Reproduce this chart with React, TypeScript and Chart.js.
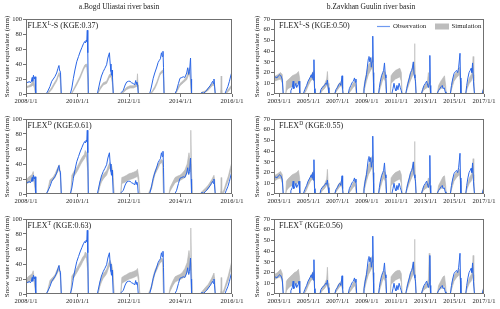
import React, { useEffect, useRef } from 'react';
import { Chart, registerables } from 'chart.js';
Chart.register(...registerables);

const FONT = '"Liberation Serif", "Times New Roman", serif';
const BLUE = '#2a66e6';
const GRAY = '#bdbdbd';
const GRAYLINE = '#b5b5b5';

type Pt = [number, number] | null;
type Bd = [number, number, number] | null;

// ---- tick labels / axes ----
const bogdTicks = [2008, 2010, 2012, 2014, 2016];
const zavTicks = [2003, 2005, 2007, 2009, 2011, 2013, 2015, 2017];
const yTitle = 'Snow water equivalent (mm)';
const titles = ['a.Bogd Uliastai river basin', 'b.Zavkhan Guulin river basin'];
const legendLabels = ['Observation', 'Simulation'];
const bogdLabels: [string, string, string][] = [
  ['FLEX', 'L', '-S (KGE:0.37)'],
  ['FLEX', 'D', ' (KGE:0.61)'],
  ['FLEX', 'T', ' (KGE:0.63)'],
];
const zavLabels: [string, string, string][] = [
  ['FLEX', 'L', '-S (KGE:0.50)'],
  ['FLEX', 'D', ' (KGE:0.55)'],
  ['FLEX', 'T', ' (KGE:0.56)'],
];

// ---- Bogd Uliastai observation [year, mm] ----
const bogdObs: Pt[] = [
  [2008.0, 14], [2008.04, 16], [2008.08, 15], [2008.12, 17], [2008.16, 15], [2008.2, 16], [2008.24, 22], [2008.26, 17], [2008.29, 25], [2008.32, 20], [2008.35, 23], [2008.38, 0], null,
  [2008.78, 0], [2008.85, 4], [2008.93, 10], [2009.0, 17], [2009.06, 20], [2009.12, 23], [2009.19, 28], [2009.24, 34], [2009.28, 38], [2009.3, 32], [2009.34, 29], [2009.37, 0], null,
  [2009.72, 0], [2009.78, 8], [2009.84, 21], [2009.9, 32], [2009.97, 43], [2010.04, 50], [2010.1, 56], [2010.17, 62], [2010.23, 67], [2010.28, 70], [2010.31, 68], [2010.34, 72], [2010.36, 70], [2010.38, 85], [2010.4, 55], [2010.42, 0], null,
  [2010.77, 0], [2010.82, 8], [2010.87, 16], [2010.93, 24], [2011.0, 30], [2011.06, 34], [2011.13, 39], [2011.18, 48], [2011.24, 55], [2011.27, 40], [2011.3, 30], [2011.32, 25], [2011.34, 32], [2011.36, 22], [2011.39, 0], null,
  [2011.65, 0], [2011.7, 2], [2011.78, 5], [2011.85, 12], [2011.91, 16], [2011.98, 17], [2012.04, 17], [2012.1, 15], [2012.17, 14], [2012.22, 12], [2012.26, 18], [2012.28, 13], [2012.3, 16], [2012.33, 14], [2012.36, 0], null,
  [2012.8, 0], [2012.86, 8], [2012.94, 21], [2013.0, 28], [2013.08, 36], [2013.13, 42], [2013.18, 45], [2013.22, 47], [2013.26, 55], [2013.29, 50], [2013.32, 57], [2013.34, 35], [2013.36, 0], null,
  [2013.78, 0], [2013.85, 5], [2013.92, 14], [2013.98, 21], [2014.05, 22], [2014.11, 23], [2014.17, 22], [2014.24, 28], [2014.28, 35], [2014.32, 26], [2014.35, 30], [2014.39, 48], [2014.41, 20], [2014.43, 0], null,
  [2014.76, 0], [2014.82, 2], [2014.9, 1], [2014.96, 3], [2015.02, 5], [2015.08, 8], [2015.15, 11], [2015.2, 14], [2015.25, 17], [2015.28, 14], [2015.3, 20], [2015.35, 0], null,
  [2015.72, 0], [2015.78, 5], [2015.84, 10], [2015.9, 17], [2015.95, 24], [2016.0, 30],
];

// ---- Bogd simulation bands [year, low, high] ----
const bogdSimLS: Bd[] = [
  [2008.0, 8, 10], [2008.1, 9, 11], [2008.2, 10, 13], [2008.28, 12, 20], [2008.33, 8, 12], [2008.37, 0, 0], null,
  [2008.8, 0, 0], [2008.9, 2, 4], [2009.0, 6, 9], [2009.1, 12, 15], [2009.19, 17, 20], [2009.25, 23, 26], [2009.29, 25, 29], [2009.33, 20, 24], [2009.36, 0, 0], null,
  [2009.76, 0, 0], [2009.84, 4, 6], [2009.97, 12, 15], [2010.1, 21, 24], [2010.23, 32, 35], [2010.29, 36, 39], [2010.36, 37, 40], [2010.4, 20, 25], [2010.42, 0, 0], null,
  [2010.78, 0, 0], [2010.88, 6, 9], [2011.0, 12, 15], [2011.13, 14, 17], [2011.24, 22, 26], [2011.31, 23, 27], [2011.35, 15, 20], [2011.39, 0, 0], null,
  [2011.7, 0, 0], [2011.78, 2, 4], [2011.91, 6, 9], [2012.04, 8, 11], [2012.17, 8, 11], [2012.3, 10, 13], [2012.33, 15, 27], [2012.35, 8, 12], [2012.37, 0, 0], null,
  [2012.82, 0, 0], [2012.9, 2, 4], [2013.0, 7, 10], [2013.08, 13, 16], [2013.2, 25, 28], [2013.27, 28, 31], [2013.32, 29, 32], [2013.35, 15, 20], [2013.37, 0, 0], null,
  [2013.8, 0, 0], [2013.86, 3, 6], [2013.98, 11, 14], [2014.11, 15, 18], [2014.24, 19, 23], [2014.3, 24, 30], [2014.34, 28, 35], [2014.38, 20, 25], [2014.42, 0, 0], null,
  [2014.76, 0, 0], [2014.85, 1, 3], [2014.95, 2, 4], [2015.05, 4, 7], [2015.15, 8, 11], [2015.27, 12, 15], [2015.32, 10, 14], [2015.35, 0, 0], null,
  [2015.56, 0, 0], [2015.58, 5, 24], [2015.6, 0, 0], null,
  [2015.74, 0, 0], [2015.82, 2, 5], [2015.9, 5, 8], [2015.96, 8, 11], [2016.0, 10, 13],
];
const bogdSimD: Bd[] = [
  [2008.0, 12, 18], [2008.08, 15, 22], [2008.16, 16, 24], [2008.24, 18, 26], [2008.28, 22, 30], [2008.32, 14, 20], [2008.38, 0, 0], null,
  [2008.8, 0, 0], [2008.86, 4, 8], [2008.93, 14, 19], [2009.0, 17, 21], [2009.06, 19, 23], [2009.13, 22, 27], [2009.19, 27, 32], [2009.25, 31, 36], [2009.29, 34, 39], [2009.33, 25, 30], [2009.37, 0, 0], null,
  [2009.74, 0, 0], [2009.78, 18, 25], [2009.86, 24, 30], [2009.93, 27, 33], [2010.0, 31, 37], [2010.06, 35, 41], [2010.13, 40, 46], [2010.2, 44, 50], [2010.27, 47, 53], [2010.3, 51, 58], [2010.35, 48, 55], [2010.4, 30, 40], [2010.42, 0, 0], null,
  [2010.8, 0, 0], [2010.87, 10, 16], [2010.93, 16, 22], [2011.0, 20, 26], [2011.07, 23, 29], [2011.13, 25, 31], [2011.2, 32, 38], [2011.26, 35, 42], [2011.33, 30, 37], [2011.38, 20, 28], [2011.42, 0, 0], null,
  [2011.68, 0, 0], [2011.72, 14, 22], [2011.8, 15, 23], [2011.91, 17, 25], [2012.0, 19, 27], [2012.1, 20, 28], [2012.18, 21, 29], [2012.24, 22, 30], [2012.3, 23, 31], [2012.33, 24, 33], [2012.38, 15, 22], [2012.42, 0, 0], null,
  [2012.75, 0, 0], [2012.82, 3, 6], [2012.88, 7, 11], [2012.95, 18, 24], [2013.01, 26, 31], [2013.08, 31, 36], [2013.14, 35, 40], [2013.2, 40, 44], [2013.27, 42, 46], [2013.31, 38, 44], [2013.34, 0, 0], null,
  [2013.55, 0, 0], [2013.6, 4, 9], [2013.7, 10, 16], [2013.79, 15, 22], [2013.9, 17, 24], [2013.98, 18, 25], [2014.08, 20, 28], [2014.17, 22, 32], [2014.26, 28, 40], [2014.33, 35, 55], [2014.37, 30, 45], [2014.4, 40, 85], [2014.43, 20, 30], [2014.46, 0, 0], null,
  [2014.76, 0, 0], [2014.85, 1, 4], [2014.95, 3, 7], [2015.08, 7, 12], [2015.21, 14, 19], [2015.3, 20, 25], [2015.33, 12, 18], [2015.35, 0, 0], null,
  [2015.56, 0, 0], [2015.58, 4, 22], [2015.6, 0, 0], null,
  [2015.62, 0, 0], [2015.7, 3, 7], [2015.78, 11, 16], [2015.86, 18, 24], [2015.93, 28, 34], [2016.0, 37, 43],
];
const bogdSimT: Bd[] = [
  [2008.0, 13, 19], [2008.08, 16, 23], [2008.16, 17, 25], [2008.24, 19, 27], [2008.28, 23, 31], [2008.32, 15, 21], [2008.38, 0, 0], null,
  [2008.8, 0, 0], [2008.86, 4, 8], [2008.93, 13, 18], [2009.0, 16, 21], [2009.06, 18, 23], [2009.13, 22, 26], [2009.19, 26, 31], [2009.25, 30, 35], [2009.29, 33, 38], [2009.33, 24, 29], [2009.37, 0, 0], null,
  [2009.74, 0, 0], [2009.78, 18, 24], [2009.86, 22, 28], [2009.93, 26, 32], [2010.0, 30, 36], [2010.06, 34, 40], [2010.13, 38, 44], [2010.2, 43, 49], [2010.27, 47, 52], [2010.3, 50, 56], [2010.35, 47, 54], [2010.4, 30, 40], [2010.42, 0, 0], null,
  [2010.8, 0, 0], [2010.87, 10, 16], [2010.93, 16, 22], [2011.0, 21, 27], [2011.07, 24, 30], [2011.13, 27, 33], [2011.2, 34, 40], [2011.26, 38, 45], [2011.33, 32, 39], [2011.38, 22, 30], [2011.42, 0, 0], null,
  [2011.68, 0, 0], [2011.72, 14, 22], [2011.8, 16, 24], [2011.91, 18, 26], [2012.0, 20, 28], [2012.1, 21, 29], [2012.18, 22, 30], [2012.24, 23, 31], [2012.3, 24, 32], [2012.33, 25, 34], [2012.38, 15, 22], [2012.42, 0, 0], null,
  [2012.75, 0, 0], [2012.82, 3, 6], [2012.88, 8, 12], [2012.95, 19, 25], [2013.01, 27, 32], [2013.08, 32, 37], [2013.14, 37, 41], [2013.2, 41, 45], [2013.27, 44, 48], [2013.31, 40, 46], [2013.34, 0, 0], null,
  [2013.55, 0, 0], [2013.6, 4, 9], [2013.7, 11, 17], [2013.79, 16, 23], [2013.9, 18, 25], [2013.98, 19, 26], [2014.08, 21, 29], [2014.17, 23, 34], [2014.26, 29, 42], [2014.33, 36, 58], [2014.37, 32, 47], [2014.4, 42, 88], [2014.43, 20, 30], [2014.46, 0, 0], null,
  [2014.76, 0, 0], [2014.85, 1, 4], [2014.95, 3, 8], [2015.08, 8, 13], [2015.21, 15, 21], [2015.3, 22, 28], [2015.33, 13, 19], [2015.35, 0, 0], null,
  [2015.56, 0, 0], [2015.58, 4, 22], [2015.6, 0, 0], null,
  [2015.62, 0, 0], [2015.7, 3, 7], [2015.78, 11, 16], [2015.86, 18, 25], [2015.93, 29, 35], [2016.0, 38, 45],
];

// ---- Zavkhan Guulin observation ----
const zavObs: Pt[] = [
  [2002.65, 14], [2002.75, 16], [2002.85, 15], [2002.95, 17], [2003.05, 18], [2003.12, 17], [2003.18, 15], [2003.22, 13], [2003.28, 0], null,
  [2003.75, 0], [2003.8, 3], [2003.9, 6], [2003.96, 12], [2004.0, 5], [2004.08, 7], [2004.15, 10], [2004.2, 6], [2004.3, 9], [2004.36, 12], [2004.4, 5], [2004.42, 0], null,
  [2004.65, 0], [2004.75, 4], [2004.88, 8], [2004.98, 12], [2005.1, 15], [2005.2, 18], [2005.25, 15], [2005.3, 20], [2005.33, 13], [2005.38, 32], [2005.42, 5], [2005.45, 0], null,
  [2005.79, 0], [2005.85, 4], [2005.93, 6], [2006.01, 7], [2006.1, 8], [2006.18, 10], [2006.24, 9], [2006.3, 13], [2006.35, 6], [2006.4, 0], null,
  [2006.8, 0], [2006.88, 4], [2006.98, 6], [2007.08, 9], [2007.15, 10], [2007.22, 8], [2007.3, 17], [2007.34, 5], [2007.37, 0], null,
  [2007.72, 0], [2007.8, 5], [2007.9, 8], [2008.0, 11], [2008.08, 12], [2008.15, 15], [2008.2, 11], [2008.25, 14], [2008.3, 0], null,
  [2008.74, 0], [2008.8, 5], [2008.88, 12], [2008.97, 18], [2009.05, 28], [2009.1, 33], [2009.14, 35], [2009.2, 30], [2009.26, 34], [2009.3, 25], [2009.35, 30], [2009.4, 54], [2009.44, 20], [2009.46, 0], null,
  [2009.8, 0], [2009.85, 6], [2009.92, 12], [2010.0, 17], [2010.08, 20], [2010.14, 22], [2010.2, 29], [2010.25, 18], [2010.3, 15], [2010.34, 0], null,
  [2010.7, 0], [2010.78, 5], [2010.85, 10], [2010.92, 5], [2010.98, 3], [2011.05, 8], [2011.12, 4], [2011.2, 10], [2011.28, 6], [2011.35, 3], [2011.4, 0], null,
  [2011.65, 0], [2011.72, 5], [2011.8, 10], [2011.9, 15], [2011.98, 20], [2012.06, 22], [2012.12, 25], [2012.17, 30], [2012.22, 18], [2012.28, 15], [2012.32, 12], [2012.36, 0], null,
  [2012.72, 0], [2012.8, 4], [2012.9, 8], [2013.0, 10], [2013.08, 12], [2013.15, 8], [2013.2, 6], [2013.26, 10], [2013.3, 36], [2013.33, 8], [2013.36, 0], null,
  [2013.8, 0], [2013.88, 3], [2013.98, 5], [2014.08, 7], [2014.15, 8], [2014.2, 5], [2014.28, 6], [2014.35, 2], [2014.4, 0], null,
  [2014.7, 0], [2014.78, 8], [2014.86, 14], [2014.95, 19], [2015.05, 21], [2015.12, 22], [2015.2, 20], [2015.27, 25], [2015.36, 38], [2015.39, 15], [2015.42, 0], null,
  [2015.75, 0], [2015.82, 8], [2015.9, 15], [2015.98, 20], [2016.06, 22], [2016.12, 24], [2016.17, 20], [2016.22, 29], [2016.28, 12], [2016.35, 0], null,
  [2016.88, 0], [2016.95, 4], [2017.0, 5],
];

// ---- Zavkhan simulation bands ----
const zavSimLS: Bd[] = [
  [2002.65, 12, 16], [2002.9, 13, 18], [2003.1, 14, 20], [2003.22, 10, 18], [2003.28, 0, 0], null,
  [2003.45, 0, 0], [2003.5, 3, 12], [2003.6, 5, 13], [2003.75, 6, 15], [2003.9, 7, 17], [2004.05, 8, 18], [2004.2, 10, 19], [2004.32, 10, 21], [2004.4, 6, 15], [2004.43, 0, 0], null,
  [2004.7, 0, 0], [2004.85, 3, 6], [2005.0, 8, 12], [2005.15, 12, 16], [2005.28, 14, 20], [2005.38, 12, 22], [2005.45, 0, 0], null,
  [2005.8, 0, 0], [2005.95, 3, 6], [2006.1, 5, 9], [2006.25, 8, 14], [2006.3, 8, 21], [2006.35, 5, 10], [2006.4, 0, 0], null,
  [2006.8, 0, 0], [2006.95, 3, 6], [2007.1, 6, 10], [2007.25, 8, 12], [2007.32, 5, 8], [2007.37, 0, 0], null,
  [2007.72, 0, 0], [2007.9, 3, 6], [2008.05, 6, 10], [2008.2, 8, 12], [2008.28, 0, 0], null,
  [2008.74, 0, 0], [2008.85, 5, 12], [2008.97, 12, 20], [2009.1, 18, 27], [2009.25, 22, 30], [2009.38, 25, 35], [2009.44, 10, 20], [2009.46, 0, 0], null,
  [2009.78, 0, 0], [2009.9, 5, 10], [2010.05, 12, 18], [2010.15, 15, 22], [2010.25, 12, 20], [2010.33, 0, 0], null,
  [2010.6, 0, 0], [2010.65, 10, 17], [2010.8, 12, 20], [2010.95, 14, 22], [2011.1, 15, 23], [2011.25, 16, 24], [2011.35, 12, 20], [2011.4, 0, 0], null,
  [2011.65, 0, 0], [2011.75, 4, 8], [2011.9, 10, 16], [2012.05, 15, 22], [2012.15, 18, 28], [2012.24, 20, 30], [2012.26, 25, 47], [2012.28, 18, 25], [2012.36, 0, 0], null,
  [2012.72, 0, 0], [2012.85, 3, 6], [2013.0, 5, 9], [2013.12, 6, 10], [2013.2, 8, 20], [2013.28, 6, 12], [2013.35, 0, 0], null,
  [2013.8, 0, 0], [2013.9, 3, 8], [2014.05, 5, 12], [2014.2, 6, 15], [2014.3, 8, 17], [2014.38, 4, 8], [2014.42, 0, 0], null,
  [2014.7, 0, 0], [2014.8, 5, 10], [2014.95, 12, 17], [2015.1, 15, 20], [2015.25, 17, 22], [2015.33, 18, 25], [2015.4, 8, 12], [2015.42, 0, 0], null,
  [2015.75, 0, 0], [2015.85, 5, 8], [2016.0, 10, 15], [2016.12, 12, 18], [2016.2, 15, 20], [2016.26, 18, 35], [2016.3, 8, 12], [2016.35, 0, 0], null,
  [2016.85, 0, 0], [2016.95, 2, 5], [2017.0, 3, 6],
];
const zavSimD: Bd[] = [
  [2002.65, 12, 17], [2002.9, 14, 19], [2003.1, 15, 21], [2003.22, 10, 18], [2003.28, 0, 0], null,
  [2003.45, 0, 0], [2003.5, 3, 12], [2003.6, 5, 14], [2003.75, 7, 16], [2003.9, 8, 18], [2004.05, 9, 19], [2004.2, 10, 20], [2004.32, 11, 22], [2004.4, 6, 15], [2004.43, 0, 0], null,
  [2004.7, 0, 0], [2004.85, 3, 6], [2005.0, 8, 12], [2005.15, 12, 16], [2005.28, 14, 20], [2005.38, 12, 22], [2005.45, 0, 0], null,
  [2005.8, 0, 0], [2005.95, 3, 6], [2006.1, 5, 9], [2006.25, 8, 14], [2006.3, 8, 23], [2006.35, 5, 10], [2006.4, 0, 0], null,
  [2006.8, 0, 0], [2006.95, 3, 6], [2007.1, 6, 10], [2007.25, 8, 12], [2007.32, 5, 9], [2007.37, 0, 0], null,
  [2007.72, 0, 0], [2007.9, 3, 6], [2008.05, 6, 10], [2008.2, 8, 13], [2008.28, 0, 0], null,
  [2008.74, 0, 0], [2008.85, 5, 12], [2008.97, 12, 20], [2009.1, 18, 27], [2009.25, 22, 31], [2009.38, 26, 36], [2009.44, 10, 20], [2009.46, 0, 0], null,
  [2009.78, 0, 0], [2009.9, 5, 10], [2010.05, 12, 18], [2010.15, 15, 22], [2010.25, 12, 20], [2010.33, 0, 0], null,
  [2010.6, 0, 0], [2010.65, 8, 15], [2010.8, 10, 18], [2010.95, 12, 20], [2011.1, 13, 21], [2011.25, 14, 22], [2011.35, 10, 18], [2011.4, 0, 0], null,
  [2011.65, 0, 0], [2011.75, 4, 8], [2011.9, 10, 16], [2012.05, 15, 22], [2012.15, 18, 28], [2012.24, 20, 30], [2012.26, 25, 49], [2012.28, 18, 25], [2012.36, 0, 0], null,
  [2012.72, 0, 0], [2012.85, 3, 6], [2013.0, 5, 9], [2013.12, 6, 10], [2013.2, 8, 15], [2013.28, 6, 12], [2013.35, 0, 0], null,
  [2013.8, 0, 0], [2013.9, 3, 8], [2014.05, 5, 12], [2014.2, 6, 16], [2014.3, 8, 17], [2014.38, 4, 8], [2014.42, 0, 0], null,
  [2014.7, 0, 0], [2014.8, 5, 10], [2014.95, 12, 17], [2015.1, 15, 20], [2015.25, 17, 22], [2015.33, 18, 23], [2015.4, 8, 12], [2015.42, 0, 0], null,
  [2015.75, 0, 0], [2015.85, 5, 8], [2016.0, 10, 15], [2016.12, 12, 18], [2016.2, 15, 20], [2016.26, 18, 33], [2016.3, 8, 12], [2016.35, 0, 0], null,
  [2016.85, 0, 0], [2016.95, 2, 5], [2017.0, 3, 6],
];
const zavSimT: Bd[] = [
  [2002.65, 13, 18], [2002.9, 15, 20], [2003.1, 16, 23], [2003.22, 11, 19], [2003.28, 0, 0], null,
  [2003.45, 0, 0], [2003.5, 3, 12], [2003.6, 5, 14], [2003.75, 7, 16], [2003.9, 8, 18], [2004.05, 9, 20], [2004.2, 10, 21], [2004.32, 11, 23], [2004.4, 6, 15], [2004.43, 0, 0], null,
  [2004.7, 0, 0], [2004.85, 3, 6], [2005.0, 8, 12], [2005.15, 12, 16], [2005.28, 14, 20], [2005.38, 12, 22], [2005.45, 0, 0], null,
  [2005.8, 0, 0], [2005.95, 3, 6], [2006.1, 5, 9], [2006.25, 8, 14], [2006.3, 8, 25], [2006.35, 5, 10], [2006.4, 0, 0], null,
  [2006.8, 0, 0], [2006.95, 3, 6], [2007.1, 6, 10], [2007.25, 8, 12], [2007.32, 5, 9], [2007.37, 0, 0], null,
  [2007.72, 0, 0], [2007.9, 3, 6], [2008.05, 6, 10], [2008.2, 8, 13], [2008.28, 0, 0], null,
  [2008.74, 0, 0], [2008.85, 5, 12], [2008.97, 12, 20], [2009.1, 18, 27], [2009.25, 22, 31], [2009.38, 26, 36], [2009.44, 10, 20], [2009.46, 0, 0], null,
  [2009.78, 0, 0], [2009.9, 5, 10], [2010.05, 12, 18], [2010.15, 15, 22], [2010.25, 12, 20], [2010.33, 0, 0], null,
  [2010.6, 0, 0], [2010.65, 9, 16], [2010.8, 11, 19], [2010.95, 13, 21], [2011.1, 14, 22], [2011.25, 15, 22], [2011.35, 11, 19], [2011.4, 0, 0], null,
  [2011.65, 0, 0], [2011.75, 4, 8], [2011.9, 10, 16], [2012.05, 15, 22], [2012.15, 18, 28], [2012.24, 20, 30], [2012.26, 25, 51], [2012.28, 18, 25], [2012.36, 0, 0], null,
  [2012.72, 0, 0], [2012.85, 3, 6], [2013.0, 5, 9], [2013.12, 6, 10], [2013.2, 8, 14], [2013.26, 10, 38], [2013.3, 6, 12], [2013.35, 0, 0], null,
  [2013.8, 0, 0], [2013.9, 3, 8], [2014.05, 5, 12], [2014.2, 6, 16], [2014.3, 8, 17], [2014.38, 4, 8], [2014.42, 0, 0], null,
  [2014.7, 0, 0], [2014.8, 5, 10], [2014.95, 12, 17], [2015.1, 15, 20], [2015.25, 17, 22], [2015.33, 18, 23], [2015.4, 8, 12], [2015.42, 0, 0], null,
  [2015.75, 0, 0], [2015.85, 5, 8], [2016.0, 10, 15], [2016.12, 12, 18], [2016.2, 15, 20], [2016.26, 18, 36], [2016.3, 8, 12], [2016.35, 0, 0], null,
  [2016.85, 0, 0], [2016.95, 2, 5], [2017.0, 3, 6],
];

function toLine(src: Pt[]) {
  const out: { x: number; y: number | null }[] = [];
  let lastX = 0;
  for (const p of src) {
    if (p) { out.push({ x: p[0], y: p[1] }); lastX = p[0]; }
    else out.push({ x: lastX, y: null });
  }
  return out;
}
function toBand(src: Bd[], k: 1 | 2) {
  const out: { x: number; y: number | null }[] = [];
  let lastX = 0;
  for (const p of src) {
    if (p) { out.push({ x: p[0], y: p[k] }); lastX = p[0]; }
    else out.push({ x: lastX, y: null });
  }
  return out;
}

const decorPlugin = {
  id: 'decor',
  afterDraw(chart: any, _args: any, opts: any) {
    const { ctx, chartArea: a } = chart;
    ctx.save();
    ctx.strokeStyle = '#707070';
    ctx.lineWidth = 1;
    ctx.strokeRect(Math.round(a.left) + 0.5, Math.round(a.top) + 0.5, Math.round(a.right - a.left) - 1, Math.round(a.bottom - a.top) - 1);
    ctx.fillStyle = '#1a1a1a';
    ctx.textBaseline = 'alphabetic';
    ctx.textAlign = 'left';
    // panel label with superscript
    const [base, sup, rest] = opts.label;
    let x = a.left + opts.labelDx;
    const y = a.top + 9;
    ctx.font = `8px ${FONT}`;
    ctx.fillText(base, x, y);
    x += ctx.measureText(base).width + 0.3;
    ctx.font = `5.5px ${FONT}`;
    ctx.fillText(sup, x, y - 3.5);
    x += ctx.measureText(sup).width;
    ctx.font = `8px ${FONT}`;
    ctx.fillText(rest, x, y);
    if (opts.title) {
      ctx.font = `7.5px ${FONT}`;
      ctx.textAlign = 'center';
      ctx.textBaseline = 'middle';
      ctx.fillText(opts.title, opts.titleX, 7);
    }
    if (opts.legend) {
      const ly = 26.5;
      ctx.strokeStyle = '#6f9af0';
      ctx.lineWidth = 1.2;
      ctx.beginPath();
      ctx.moveTo(127, ly);
      ctx.lineTo(140, ly);
      ctx.stroke();
      ctx.fillStyle = GRAY;
      ctx.fillRect(185, ly - 3, 14, 6);
      ctx.fillStyle = '#1a1a1a';
      ctx.font = `6.8px ${FONT}`;
      ctx.textAlign = 'left';
      ctx.textBaseline = 'middle';
      ctx.fillText(legendLabels[0], 143, ly);
      ctx.fillText(legendLabels[1], 201.5, ly);
    }
    ctx.restore();
  },
};

type PanelProps = {
  left: number; top: number; width: number; height: number;
  padTop: number; padRight: number; yw: number; xh: number;
  xMin: number; xMax: number; ticks: number[]; yMax: number; yStep: number;
  obs: Pt[]; band: Bd[]; label: [string, string, string]; labelDx: number;
  title?: string; titleX?: number; legend?: boolean;
};

function Panel(p: PanelProps) {
  const ref = useRef<HTMLCanvasElement>(null);
  useEffect(() => {
    if (!ref.current) return;
    const tickFont = { family: FONT, size: 6.5 };
    const chart = new Chart(ref.current, {
      type: 'line',
      data: {
        datasets: [
          { data: toLine(p.obs), borderColor: BLUE, borderWidth: 1, pointRadius: 0, fill: false, spanGaps: false, tension: 0 } as any,
          { data: toBand(p.band, 1), borderColor: GRAYLINE, borderWidth: 0.6, pointRadius: 0, fill: false, spanGaps: false, tension: 0 } as any,
          { data: toBand(p.band, 2), borderColor: GRAYLINE, borderWidth: 0.6, backgroundColor: GRAY, pointRadius: 0, fill: '-1', spanGaps: false, tension: 0 } as any,
        ],
      },
      options: {
        responsive: false,
        animation: false,
        events: [],
        layout: { padding: { top: p.padTop, right: p.padRight, left: 0, bottom: 0 } },
        plugins: {
          legend: { display: false },
          tooltip: { enabled: false },
          decor: { label: p.label, labelDx: p.labelDx, title: p.title, titleX: p.titleX, legend: p.legend },
        } as any,
        scales: {
          x: {
            type: 'linear',
            min: p.xMin,
            max: p.xMax,
            afterBuildTicks: (s: any) => { s.ticks = p.ticks.map((v) => ({ value: v })); },
            afterFit: (s: any) => { s.height = p.xh; },
            ticks: { callback: (v: any) => `${v}/1/1`, font: tickFont, color: '#1a1a1a', padding: 0, autoSkip: false, maxRotation: 0 },
            grid: { display: true, drawOnChartArea: false, drawTicks: true, tickLength: 3, color: '#707070' },
            border: { display: false },
          },
          y: {
            min: 0,
            max: p.yMax,
            afterFit: (s: any) => { s.width = p.yw; },
            ticks: { stepSize: p.yStep, font: tickFont, color: '#1a1a1a', padding: 1, autoSkip: false },
            grid: { display: true, drawOnChartArea: false, drawTicks: true, tickLength: 3, color: '#707070' },
            border: { display: false },
            title: { display: true, text: yTitle, font: { family: FONT, size: 7 }, color: '#1a1a1a', padding: { top: 3, bottom: 0 } },
          },
        },
      } as any,
      plugins: [decorPlugin],
    });
    return () => chart.destroy();
  }, []);
  return (
    <canvas
      ref={ref}
      width={p.width}
      height={p.height}
      style={{ position: 'absolute', left: p.left, top: p.top, width: p.width, height: p.height }}
    />
  );
}

const rows = [
  { top: 0, height: 106, padTop: 19, xh: 12 },
  { top: 106, height: 100, padTop: 13, xh: 12 },
  { top: 206, height: 103, padTop: 13, xh: 15 },
];
const bogdBands = [bogdSimLS, bogdSimD, bogdSimT];
const zavBands = [zavSimLS, zavSimD, zavSimT];

export default function App() {
  return (
    <div style={{ position: 'fixed', left: 0, top: 0, width: 500, height: 309, background: '#fff', overflow: 'hidden' }}>
      {rows.map((r, i) => (
        <Panel
          key={'b' + i}
          left={0} top={r.top} width={250} height={r.height}
          padTop={r.padTop} padRight={18} yw={26} xh={r.xh}
          xMin={2008} xMax={2016} ticks={bogdTicks} yMax={100} yStep={20}
          obs={bogdObs} band={bogdBands[i]} label={bogdLabels[i]} labelDx={1.5}
          title={i === 0 ? titles[0] : undefined} titleX={119}
        />
      ))}
      {rows.map((r, i) => (
        <Panel
          key={'z' + i}
          left={250} top={r.top} width={250} height={r.height}
          padTop={r.padTop} padRight={16} yw={24} xh={r.xh}
          xMin={2002.65} xMax={2017} ticks={zavTicks} yMax={70} yStep={10}
          obs={zavObs} band={zavBands[i]} label={zavLabels[i]} labelDx={5}
          title={i === 0 ? titles[1] : undefined} titleX={121} legend={i === 0}
        />
      ))}
    </div>
  );
}
